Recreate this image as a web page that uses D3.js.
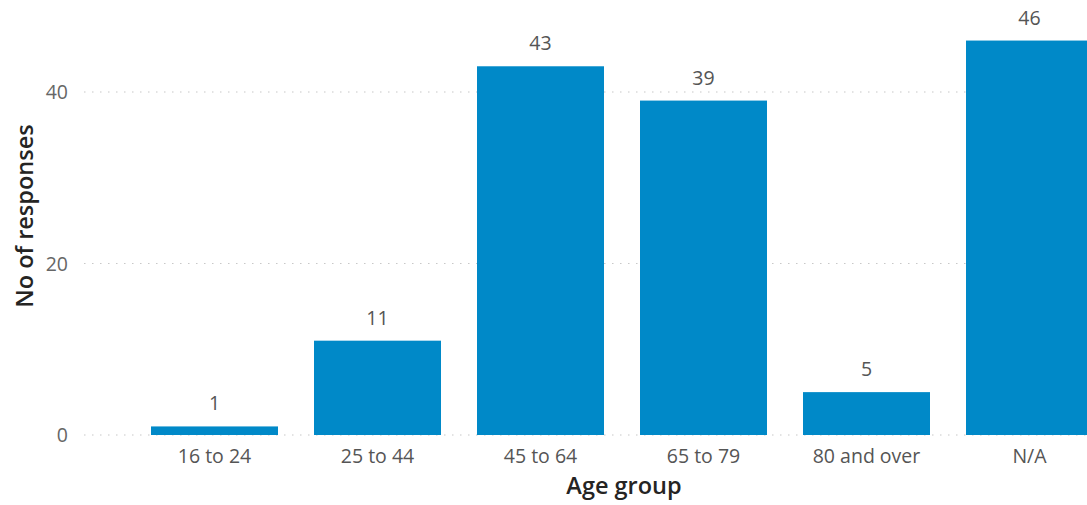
<!DOCTYPE html>
<html><head><meta charset="utf-8">
<script src="https://cdn.jsdelivr.net/npm/d3@7"></script>
<style>
html,body{margin:0;padding:0;background:#fff;overflow:hidden}
text{font-family:"Open Sans","Noto Sans",sans-serif}
</style></head>
<body><svg id="c" width="1087" height="505"></svg>
<script>
const categories = ["16 to 24","25 to 44","45 to 64","65 to 79","80 and over","N/A"];
const values = [1, 11, 43, 39, 5, 46];
const yTicks = [0, 20, 40];

const svg = d3.select("#c");
const W = 1087, H = 505;
const y0 = 435, yPerUnit = (435 - 92) / 40;
const y = d3.scaleLinear().domain([0, 40]).range([y0, y0 - 40 * yPerUnit]);
const x = d3.scaleBand().domain(categories).range([133, 133 + 6 * 163]).paddingInner(36/163).paddingOuter(18/163);

// gridlines
svg.append("g").selectAll("line").data(yTicks).join("line")
  .attr("x1", 84).attr("x2", W)
  .attr("y1", d => y(d)).attr("y2", d => y(d))
  .attr("stroke", "#c8c8c8").attr("stroke-width", 1.2)
  .attr("stroke-dasharray", "1.5,6.5");

// y tick labels
svg.append("g").selectAll("text").data(yTicks).join("text")
  .attr("x", 68).attr("y", d => y(d)).attr("dy", "0.36em")
  .attr("text-anchor", "end").attr("fill", "#666").attr("font-size", 19.5)
  .text(d => d);

// bars
svg.append("g").selectAll("rect").data(values).join("rect")
  .attr("x", (d, i) => x(categories[i]))
  .attr("width", x.bandwidth())
  .attr("y", d => y(d))
  .attr("height", d => y0 - y(d))
  .attr("fill", "#0089C8");

// value labels
svg.append("g").selectAll("text").data(values).join("text")
  .attr("x", (d, i) => x(categories[i]) + x.bandwidth() / 2)
  .attr("y", d => y(d) - 16)
  .attr("text-anchor", "middle").attr("fill", "#555").attr("font-size", 19.5)
  .text(d => d);

// x labels
svg.append("g").selectAll("text").data(categories).join("text")
  .attr("x", d => x(d) + x.bandwidth() / 2)
  .attr("y", 463)
  .attr("text-anchor", "middle").attr("fill", "#555").attr("font-size", 19.5)
  .text(d => d);

// axis titles
svg.append("text").attr("x", 624).attr("y", 494)
  .attr("text-anchor", "middle").attr("fill", "#252423").attr("font-size", 23.5).attr("font-weight", 600)
  .text("Age group");
svg.append("text").attr("transform", "translate(33,216) rotate(-90)")
  .attr("text-anchor", "middle").attr("fill", "#252423").attr("font-size", 23.5).attr("font-weight", 600)
  .text("No of responses");
</script></body></html>
